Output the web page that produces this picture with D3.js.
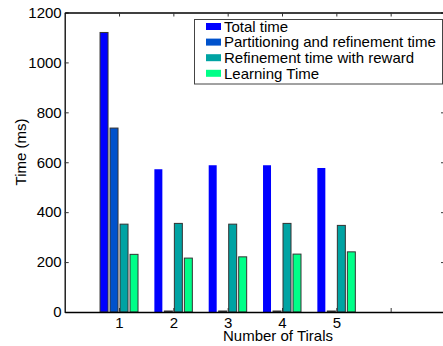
<!DOCTYPE html>
<html>
<head>
<meta charset="utf-8">
<script src="https://cdn.jsdelivr.net/npm/d3@7"></script>
<style>
  body { margin: 0; background: #fff; }
  svg { display: block; font-family: "Liberation Sans", Arial, sans-serif; }
</style>
</head>
<body>
<script>
// chart data
var trials = [1, 2, 3, 4, 5];
var seriesNames = ["Total time", "Partitioning and refinement time", "Refinement time with reward", "Learning Time"];
var totalTime = [1120, 572, 588, 588, 577];
var partitionTime = [737, 4, 4, 4, 4];
var refineTime = [352, 355, 352, 355, 347];
var learnTime = [231, 216, 221, 232, 241];
var yTicks = [0, 200, 400, 600, 800, 1000, 1200];
var xTicks = [1, 2, 3, 4, 5, 6];

var colors = ["#0000ff", "#0052cc", "#00a3a3", "#00ff88"];
var series = [totalTime, partitionTime, refineTime, learnTime];

var W = 443, H = 346;

var svg = d3.select("body").append("svg")
    .attr("width", W)
    .attr("height", H);

// scales
var xScale = d3.scaleLinear().domain([0, 7]).range([64.7, 445]);
var yScale = d3.scaleLinear().domain([0, 1200]).range([312, 12.5]);

// bar offsets in x units (4 bars per group)
var offsets = [-0.276, -0.092, 0.092, 0.276];
var barW = 0.147;

var bars = [];
series.forEach(function (vals, s) {
    vals.forEach(function (v, i) {
        bars.push({ s: s, i: i, x: trials[i] + offsets[s], value: v });
    });
});

svg.append("g")
    .selectAll("rect")
    .data(bars)
    .enter().append("rect")
        .attr("x", function (d) { return xScale(d.x - barW / 2); })
        .attr("y", function (d) { return yScale(d.value); })
        .attr("width", function (d) { return xScale(d.x + barW / 2) - xScale(d.x - barW / 2); })
        .attr("height", function (d) { return yScale(0) - yScale(d.value); })
        .attr("fill", function (d) { return colors[d.s]; })
        .attr("stroke", function (d) { return (d.s == 0 && d.i > 0) ? "none" : "#333"; })
        .attr("stroke-width", 1);

// axes
var fontSize = 15;
var axLeft = svg.append("g")
    .attr("transform", "translate(" + xScale(0) + ",0)")
    .call(d3.axisLeft(yScale).tickValues(yTicks).tickSizeInner(-4).tickSizeOuter(0).tickPadding(3)
        .tickFormat(d3.format("d")));
var axRight = svg.append("g")
    .attr("transform", "translate(" + xScale(7) + ",0)")
    .call(d3.axisRight(yScale).tickValues(yTicks).tickSizeInner(-4).tickSizeOuter(0).tickFormat(""));
var axBottom = svg.append("g")
    .attr("transform", "translate(0," + yScale(0) + ")")
    .call(d3.axisBottom(xScale).tickValues(xTicks).tickSizeInner(-4).tickSizeOuter(0).tickPadding(5)
        .tickFormat(function (d) { return d <= 5 ? d : ""; }));
var axTop = svg.append("g")
    .attr("transform", "translate(0," + yScale(1200) + ")")
    .call(d3.axisTop(xScale).tickValues(xTicks).tickSizeInner(-4).tickSizeOuter(0).tickFormat(""));

[axLeft, axRight, axBottom, axTop].forEach(function (a) {
    a.select(".domain").attr("stroke", "#000").attr("stroke-width", 1.3);
    a.selectAll(".tick line").attr("stroke", "#333");
    a.selectAll("text")
        .attr("font-size", fontSize)
        .attr("font-family", "'Liberation Sans', Arial, sans-serif")
        .attr("fill", "#000");
});

// axis titles
svg.append("text")
    .attr("x", 278)
    .attr("y", 341)
    .attr("text-anchor", "middle")
    .attr("font-size", fontSize)
    .text("Number of Tirals");

svg.append("text")
    .attr("transform", "translate(26,152) rotate(-90)")
    .attr("text-anchor", "middle")
    .attr("font-size", fontSize)
    .text("Time (ms)");

// legend
var legend = svg.append("g");
legend.append("rect")
    .attr("x", 194.5)
    .attr("y", 19.5)
    .attr("width", 248)
    .attr("height", 64.5)
    .attr("fill", "#fff")
    .attr("stroke", "#444")
    .attr("stroke-width", 1);

var item = legend.selectAll("g.lgd")
    .data(seriesNames)
    .enter().append("g")
        .attr("class", "lgd")
        .attr("transform", function (d, i) { return "translate(0," + (26.5 + i * 15.6) + ")"; });

item.append("rect")
    .attr("x", 206)
    .attr("y", -3.5)
    .attr("width", 15)
    .attr("height", 7)
    .attr("fill", function (d, i) { return colors[i]; });

item.append("text")
    .attr("x", 224)
    .attr("y", 5.3)
    .attr("font-size", fontSize)
    .text(function (d) { return d; });
</script>
</body>
</html>
